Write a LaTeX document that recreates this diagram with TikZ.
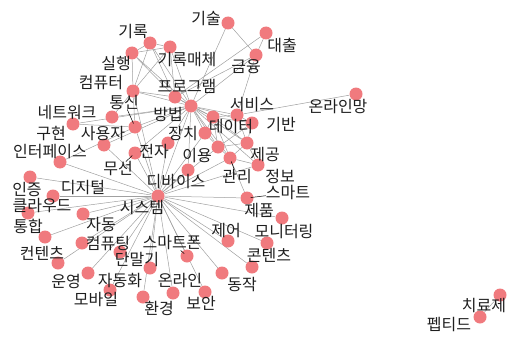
\documentclass[tikz,border=0pt]{standalone}
\usepackage{fontspec}
\newfontfamily\krfont{Noto Sans CJK KR}
\definecolor{vcol}{RGB}{240,122,126}
\definecolor{ecol}{RGB}{160,160,160}
\definecolor{tcol}{RGB}{30,30,30}
\pgfdeclarelayer{bg}
\pgfsetlayers{bg,main}
\begin{document}
\begin{tikzpicture}[x=1pt,y=-1pt,
  v/.style={circle,fill=vcol,minimum size=13pt,inner sep=0pt},
  lab/.style={font=\krfont\fontsize{16pt}{16pt}\selectfont,text=tcol,inner sep=0pt},
  e/.style={draw=ecol,line width=0.5pt},
  lead/.style={draw=black,line width=0.5pt,shorten >=-3pt}]
\useasboundingbox (0,0) rectangle (508,345);
% vertices
\node[v] (gisul) at (228,23) {};
\node[v] (daechul) at (266,33) {};
\node[v] (geumyung) at (256,55) {};
\node[v] (girok) at (150,43) {};
\node[v] (girokm) at (170,47) {};
\node[v] (silhaeng) at (132,53) {};
\node[v] (computer) at (133,91) {};
\node[v] (program) at (175,97) {};
\node[v] (bangbeop) at (191,106) {};
\node[v] (tongsin) at (135,127) {};
\node[v] (network) at (112,117) {};
\node[v] (guhyeon) at (73,124) {};
\node[v] (sayongja) at (104,145) {};
\node[v] (interface) at (60,162) {};
\node[v] (jeonja) at (168,143) {};
\node[v] (museon) at (135,153) {};
\node[v] (seobiseu) at (237,115) {};
\node[v] (deiteo) at (213,117) {};
\node[v] (giban) at (252,123) {};
\node[v] (jangchi) at (205,133) {};
\node[v] (iyong) at (218,147) {};
\node[v] (jegong) at (247,143) {};
\node[v] (gwanri) at (230,158) {};
\node[v] (jeongbo) at (258,165) {};
\node[v] (dibaiseu) at (188,170) {};
\node[v] (onlinemang) at (356,94) {};
\node[v] (injeung) at (30,177) {};
\node[v] (digital) at (53,196) {};
\node[v] (system) at (158,196) {};
\node[v] (cloud) at (28,213) {};
\node[v] (jadong) at (83,214) {};
\node[v] (tonghap) at (45,237) {};
\node[v] (computing) at (82,243) {};
\node[v] (contentsa) at (58,263) {};
\node[v] (danmalgi) at (120,252) {};
\node[v] (smartphone) at (187,256) {};
\node[v] (unyeong) at (88,273) {};
\node[v] (jadonghwa) at (150,268) {};
\node[v] (mobile) at (110,290) {};
\node[v] (hwangyeong) at (143,297) {};
\node[v] (online) at (173,293) {};
\node[v] (boan) at (205,292) {};
\node[v] (smart) at (247,198) {};
\node[v] (jepum) at (282,218) {};
\node[v] (jeeo) at (228,241) {};
\node[v] (monitoring) at (267,243) {};
\node[v] (contentsb) at (252,267) {};
\node[v] (dongjak) at (222,273) {};
\node[v] (chiryoje) at (500,295) {};
\node[v] (peptide) at (480,317) {};
% labels
\node[lab] (t-gisul) at (206,19) {기술};
\node[lab] (t-daechul) at (282,45) {대출};
\node[lab] (t-geumyung) at (246,67) {금융};
\node[lab] (t-girok) at (133,32) {기록};
\node[lab] (t-girokm) at (187,60) {기록매체};
\node[lab] (t-silhaeng) at (116,63) {실행};
\node[lab] (t-computer) at (101,83) {컴퓨터};
\node[lab] (t-program) at (187,86) {프로그램};
\node[lab] (t-bangbeop) at (168,114) {방법};
\node[lab] (t-tongsin) at (124,102) {통신};
\node[lab] (t-network) at (67,113) {네트워크};
\node[lab] (t-guhyeon) at (51,134) {구현};
\node[lab] (t-sayongja) at (103,134) {사용자};
\node[lab] (t-interface) at (50,152) {인터페이스};
\node[lab] (t-jeonja) at (154,152) {전자};
\node[lab] (t-museon) at (118,169) {무선};
\node[lab] (t-seobiseu) at (252,105) {서비스};
\node[lab] (t-deiteo) at (231,127) {데이터};
\node[lab] (t-giban) at (281,125) {기반};
\node[lab] (t-jangchi) at (183,134) {장치};
\node[lab] (t-iyong) at (197,156) {이용};
\node[lab] (t-jegong) at (265,155) {제공};
\node[lab] (t-gwanri) at (237,177) {관리};
\node[lab] (t-jeongbo) at (280,176) {정보};
\node[lab] (t-dibaiseu) at (176,182) {디바이스};
\node[lab] (t-onlinemang) at (338,107) {온라인망};
\node[lab] (t-injeung) at (27,189) {인증};
\node[lab] (t-digital) at (83,188) {디지털};
\node[lab] (t-system) at (142,208) {시스템};
\node[lab] (t-cloud) at (42,206) {클라우드};
\node[lab] (t-jadong) at (101,225) {자동};
\node[lab] (t-tonghap) at (28,226) {통합};
\node[lab] (t-computing) at (108,244) {컴퓨팅};
\node[lab] (t-contentsa) at (42,253) {컨텐츠};
\node[lab] (t-danmalgi) at (137,260) {단말기};
\node[lab] (t-smartphone) at (172,243) {스마트폰};
\node[lab] (t-unyeong) at (66,281) {운영};
\node[lab] (t-jadonghwa) at (120,281) {자동화};
\node[lab] (t-mobile) at (96,300) {모바일};
\node[lab] (t-hwangyeong) at (159,308) {환경};
\node[lab] (t-online) at (180,281) {온라인};
\node[lab] (t-boan) at (201,303) {보안};
\node[lab] (t-smart) at (288,193) {스마트};
\node[lab] (t-jepum) at (259,211) {제품};
\node[lab] (t-jeeo) at (226,231) {제어};
\node[lab] (t-monitoring) at (284,232) {모니터링};
\node[lab] (t-contentsb) at (269,255) {콘텐츠};
\node[lab] (t-dongjak) at (242,285) {동작};
\node[lab] (t-chiryoje) at (484,306) {치료제};
\node[lab] (t-peptide) at (449,325) {펩티드};
% leader lines
\draw[lead] (t-smart) -- (smart);
\draw[lead] (t-tongsin) -- (tongsin);
\draw[lead] (t-museon) -- (museon);
\draw[lead] (t-gwanri) -- (gwanri);
\draw[lead] (t-smartphone) -- (smartphone);
% edges
\begin{pgfonlayer}{bg}
\foreach \a/\b in {gisul/bangbeop,gisul/geumyung,daechul/geumyung,daechul/program,geumyung/program,geumyung/bangbeop,geumyung/seobiseu,
  girok/girokm,girok/silhaeng,girok/computer,girok/bangbeop,girok/program,
  girokm/silhaeng,girokm/computer,girokm/bangbeop,girokm/program,
  silhaeng/computer,silhaeng/program,silhaeng/bangbeop,
  computer/program,computer/bangbeop,computer/system,computer/tongsin,
  program/bangbeop,program/deiteo,
  network/bangbeop,network/computer,guhyeon/tongsin,guhyeon/bangbeop,tongsin/bangbeop,tongsin/system,
  sayongja/bangbeop,sayongja/system,interface/system,interface/tongsin,jeonja/bangbeop,jeonja/system,museon/system,museon/bangbeop,
  bangbeop/seobiseu,bangbeop/deiteo,bangbeop/giban,bangbeop/jangchi,bangbeop/iyong,bangbeop/jegong,bangbeop/gwanri,bangbeop/jeongbo,bangbeop/dibaiseu,bangbeop/system,
  seobiseu/deiteo,seobiseu/giban,seobiseu/onlinemang,seobiseu/jegong,
  deiteo/giban,deiteo/jegong,deiteo/iyong,deiteo/jangchi,deiteo/gwanri,
  giban/jegong,giban/iyong,jangchi/iyong,jangchi/system,
  iyong/gwanri,iyong/jegong,iyong/system,jegong/gwanri,jegong/jeongbo,
  gwanri/jeongbo,gwanri/smart,gwanri/system,dibaiseu/system,jeongbo/system,
  system/injeung,system/digital,system/cloud,system/jadong,system/tonghap,system/computing,system/contentsa,
  system/danmalgi,system/smartphone,system/unyeong,system/jadonghwa,system/mobile,system/hwangyeong,system/online,system/boan,
  system/smart,system/jepum,system/jeeo,system/monitoring,system/contentsb,system/dongjak,
  chiryoje/peptide}
  \draw[e] (\a) -- (\b);
\end{pgfonlayer}
\end{tikzpicture}
\end{document}
